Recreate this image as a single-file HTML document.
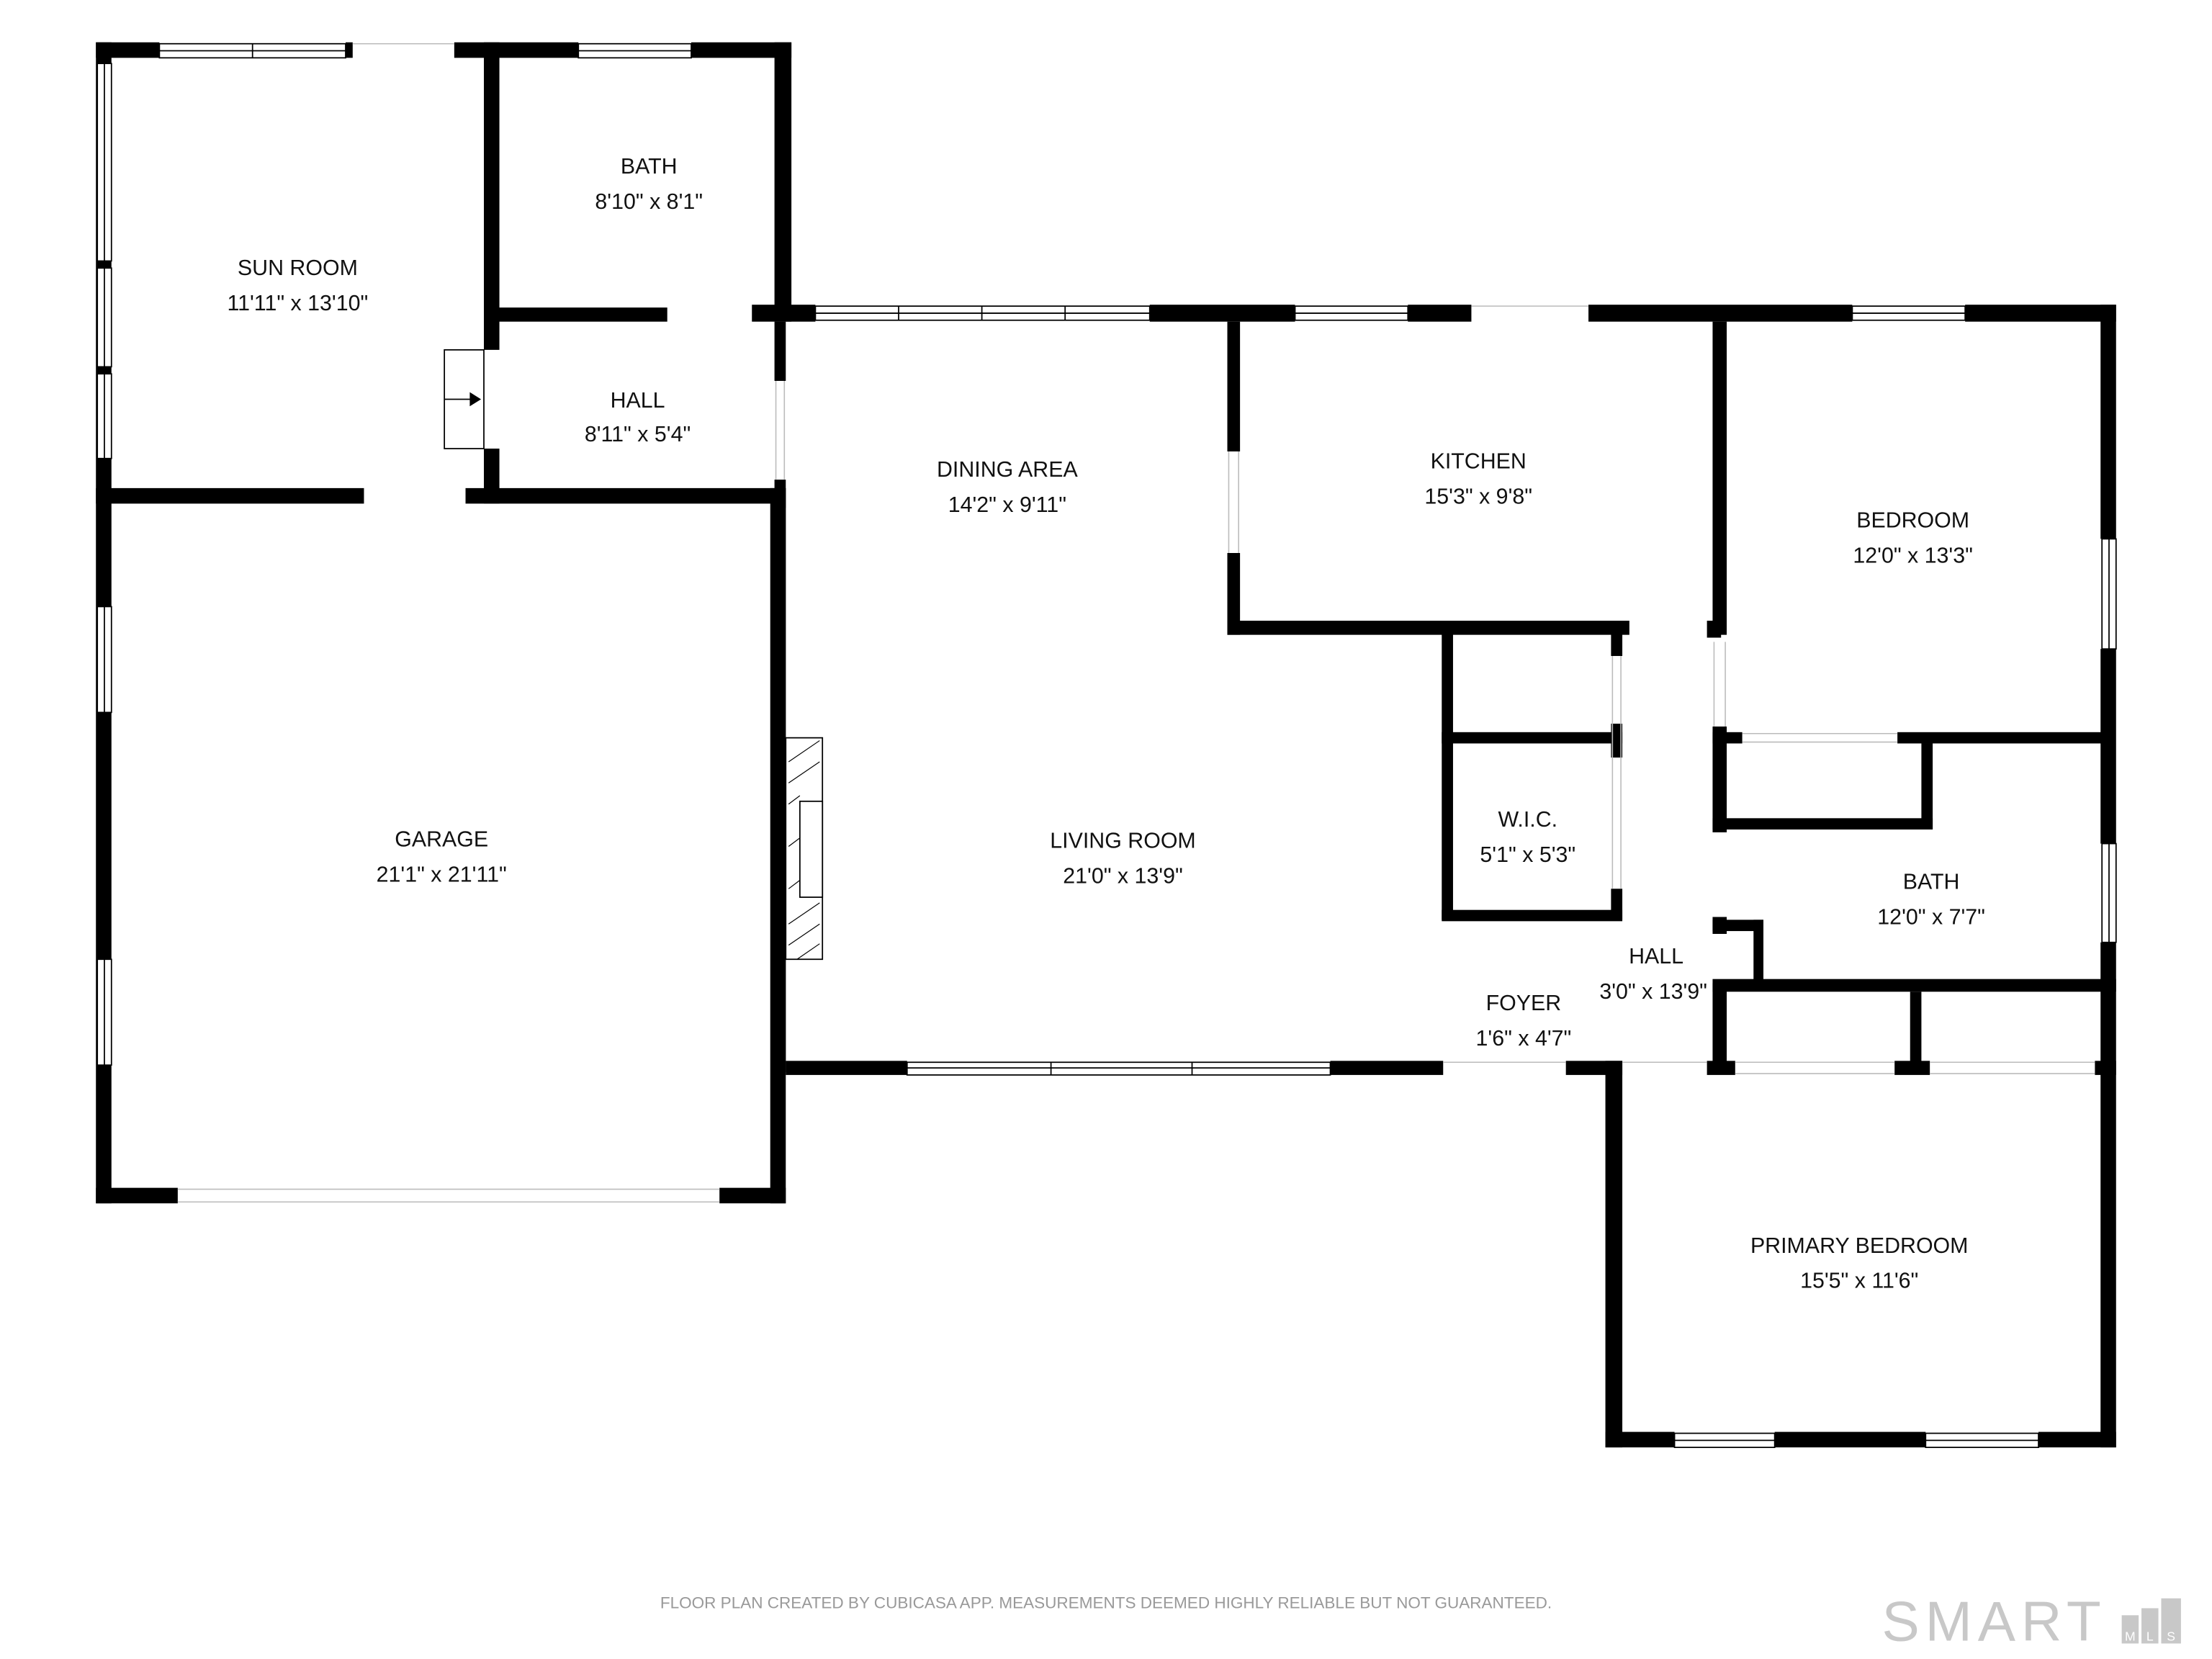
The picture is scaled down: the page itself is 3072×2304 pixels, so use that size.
<!DOCTYPE html>
<html><head><meta charset="utf-8"><style>
html,body{margin:0;padding:0;background:#fff;}
svg{display:block;}
text{font-family:"Liberation Sans",sans-serif;}
</style></head><body>
<svg width="3072" height="2304" viewBox="0 0 1568 1176" xmlns="http://www.w3.org/2000/svg">
<rect width="1568" height="1176" fill="#fff"/>
<g fill="#000">
<!-- sun room / bath block -->
<rect x="68" y="30" width="45" height="11"/>
<rect x="245" y="30" width="5" height="11"/>
<rect x="322" y="30" width="88" height="11"/>
<rect x="490" y="30" width="71" height="11"/>
<rect x="68" y="30" width="11" height="823"/>
<rect x="343" y="30" width="11" height="218"/>
<rect x="343" y="318" width="11" height="39"/>
<rect x="549" y="30" width="12" height="198"/>
<rect x="343" y="218" width="130" height="10"/>
<rect x="533" y="216" width="45" height="12"/>
<rect x="68" y="346" width="190" height="11"/>
<rect x="330" y="346" width="227" height="11"/>
<rect x="549" y="228" width="8" height="42"/>
<rect x="549" y="340" width="8" height="20"/>
<!-- garage -->
<rect x="546" y="346" width="11" height="507"/>
<rect x="68" y="842" width="58" height="11"/>
<rect x="510" y="842" width="47" height="11"/>
<!-- main top wall -->
<rect x="815" y="216" width="103" height="12"/>
<rect x="998" y="216" width="45" height="12"/>
<rect x="1126" y="216" width="187" height="12"/>
<rect x="1393" y="216" width="107" height="12"/>
<!-- right wall -->
<rect x="1489" y="216" width="11" height="166"/>
<rect x="1489" y="460" width="11" height="138"/>
<rect x="1489" y="668" width="11" height="358"/>
<!-- living left wall -->
<rect x="549" y="357" width="8" height="403"/>
<!-- kitchen -->
<rect x="870" y="228" width="9" height="92"/>
<rect x="870" y="392" width="9" height="58"/>
<rect x="870" y="440" width="285" height="10"/>
<!-- WIC -->
<rect x="1022" y="445" width="8" height="207"/>
<rect x="1022" y="519" width="128" height="8"/>
<rect x="1022" y="645" width="128" height="8"/>
<rect x="1142" y="445" width="8" height="20"/>
<rect x="1142" y="513" width="8" height="24"/>
<rect x="1142" y="630" width="8" height="22"/>
<!-- bedroom/bath left wall -->
<rect x="1214" y="228" width="10" height="222"/>
<rect x="1210" y="440" width="10" height="12"/>
<rect x="1214" y="515" width="10" height="75"/>
<rect x="1214" y="650" width="10" height="12"/>
<rect x="1214" y="697" width="10" height="63"/>
<rect x="1214" y="519" width="21" height="8"/>
<rect x="1345" y="519" width="145" height="8"/>
<rect x="1362" y="527" width="8" height="61"/>
<rect x="1214" y="580" width="156" height="8"/>
<rect x="1214" y="652" width="36" height="8"/>
<rect x="1243" y="652" width="7" height="45"/>
<rect x="1214" y="694" width="286" height="9"/>
<rect x="1354" y="703" width="8" height="57"/>
<!-- bottom wall -->
<rect x="557" y="752" width="86" height="10"/>
<rect x="943" y="752" width="80" height="10"/>
<rect x="1110" y="752" width="40" height="10"/>
<rect x="1210" y="752" width="20" height="10"/>
<rect x="1343" y="752" width="25" height="10"/>
<rect x="1485" y="752" width="15" height="10"/>
<!-- primary bedroom -->
<rect x="1138" y="752" width="12" height="274"/>
<rect x="1138" y="1015" width="49" height="11"/>
<rect x="1258" y="1015" width="107" height="11"/>
<rect x="1445" y="1015" width="55" height="11"/>
</g>
<!-- windows -->
<g fill="#fff" stroke="#000" stroke-width="0.9">
<rect x="113" y="31" width="132" height="10"/><line x1="113" y1="36" x2="245" y2="36"/><line x1="179" y1="31" x2="179" y2="41"/>
<rect x="410" y="31" width="80" height="10"/><line x1="410" y1="36" x2="490" y2="36"/>
<rect x="69" y="45" width="10" height="140"/><line x1="74" y1="45" x2="74" y2="185"/>
<rect x="69" y="190" width="10" height="70"/><line x1="74" y1="190" x2="74" y2="260"/>
<rect x="69" y="265" width="10" height="60"/><line x1="74" y1="265" x2="74" y2="325"/>
<rect x="69" y="430" width="10" height="75"/><line x1="74" y1="430" x2="74" y2="505"/>
<rect x="69" y="680" width="10" height="75"/><line x1="74" y1="680" x2="74" y2="755"/>
<rect x="578" y="217" width="237" height="10"/><line x1="578" y1="222" x2="815" y2="222"/><line x1="637" y1="217" x2="637" y2="227"/><line x1="696" y1="217" x2="696" y2="227"/><line x1="755" y1="217" x2="755" y2="227"/>
<rect x="918" y="217" width="80" height="10"/><line x1="918" y1="222" x2="998" y2="222"/>
<rect x="1313" y="217" width="80" height="10"/><line x1="1313" y1="222" x2="1393" y2="222"/>
<rect x="1490" y="382" width="10" height="78"/><line x1="1495" y1="382" x2="1495" y2="460"/>
<rect x="1490" y="598" width="10" height="70"/><line x1="1495" y1="598" x2="1495" y2="668"/>
<rect x="643" y="753" width="300" height="9"/><line x1="643" y1="757" x2="943" y2="757"/><line x1="745" y1="753" x2="745" y2="762"/><line x1="845" y1="753" x2="845" y2="762"/>
<rect x="1187" y="1016" width="71" height="10"/><line x1="1187" y1="1021" x2="1258" y2="1021"/>
<rect x="1365" y="1016" width="80" height="10"/><line x1="1365" y1="1021" x2="1445" y2="1021"/>
</g>
<g fill="none" stroke="#bbb" stroke-width="0.8">
<line x1="126" y1="843" x2="510" y2="843"/><line x1="126" y1="852" x2="510" y2="852"/>
<line x1="250" y1="31" x2="322" y2="31"/><line x1="1043" y1="217" x2="1126" y2="217"/>
<line x1="1235" y1="520" x2="1345" y2="520"/><line x1="1235" y1="526" x2="1345" y2="526"/>
<line x1="1230" y1="753" x2="1343" y2="753"/><line x1="1230" y1="761" x2="1343" y2="761"/>
<line x1="1368" y1="753" x2="1485" y2="753"/><line x1="1368" y1="761" x2="1485" y2="761"/>
<line x1="1150" y1="753" x2="1210" y2="753"/><line x1="1023" y1="753" x2="1110" y2="753"/>
<line x1="1215" y1="455" x2="1215" y2="515"/><line x1="1223" y1="455" x2="1223" y2="515"/>
<line x1="1143" y1="465" x2="1143" y2="630"/><line x1="1149" y1="465" x2="1149" y2="630"/>
<line x1="871" y1="320" x2="871" y2="392"/><line x1="878" y1="320" x2="878" y2="392"/>
<line x1="550" y1="270" x2="550" y2="340"/><line x1="556" y1="270" x2="556" y2="340"/>
</g>
<!-- door box sunroom -->
<g fill="#fff" stroke="#000" stroke-width="0.9">
<rect x="315" y="248" width="28" height="70"/>
</g>
<line x1="315" y1="283" x2="336" y2="283" stroke="#000" stroke-width="0.9"/>
<polygon points="333,278 341,283 333,288" fill="#000"/>
<!-- fireplace -->
<g fill="#fff" stroke="#000" stroke-width="0.9">
<rect x="557" y="523" width="26" height="157"/>
<rect x="567" y="568" width="16" height="68"/>
</g>
<g stroke="#000" stroke-width="0.6">
<line x1="559" y1="540" x2="581" y2="525"/><line x1="559" y1="555" x2="581" y2="540"/><line x1="559" y1="570" x2="567" y2="564"/>
<line x1="559" y1="600" x2="567" y2="594"/><line x1="559" y1="630" x2="567" y2="624"/>
<line x1="559" y1="655" x2="581" y2="640"/><line x1="559" y1="670" x2="581" y2="655"/><line x1="565" y1="680" x2="581" y2="669"/>
</g>
<!-- labels -->
<g font-size="15.5" fill="#111" text-anchor="middle">
<text x="211" y="195">SUN ROOM</text><text x="211" y="220">11'11" x 13'10"</text>
<text x="460" y="123">BATH</text><text x="460" y="148">8'10" x 8'1"</text>
<text x="452" y="289">HALL</text><text x="452" y="313">8'11" x 5'4"</text>
<text x="714" y="338">DINING AREA</text><text x="714" y="363">14'2" x 9'11"</text>
<text x="1048" y="332">KITCHEN</text><text x="1048" y="357">15'3" x 9'8"</text>
<text x="1356" y="374">BEDROOM</text><text x="1356" y="399">12'0" x 13'3"</text>
<text x="313" y="600">GARAGE</text><text x="313" y="625">21'1" x 21'11"</text>
<text x="796" y="601">LIVING ROOM</text><text x="796" y="626">21'0" x 13'9"</text>
<text x="1083" y="586">W.I.C.</text><text x="1083" y="611">5'1" x 5'3"</text>
<text x="1369" y="630">BATH</text><text x="1369" y="655">12'0" x 7'7"</text>
<text x="1174" y="683">HALL</text><text x="1172" y="708">3'0" x 13'9"</text>
<text x="1080" y="716">FOYER</text><text x="1080" y="741">1'6" x 4'7"</text>
<text x="1318" y="888">PRIMARY BEDROOM</text><text x="1318" y="913">15'5" x 11'6"</text>
</g>
<text x="784" y="1140" font-size="11.5" fill="#999" text-anchor="middle">FLOOR PLAN CREATED BY CUBICASA APP. MEASUREMENTS DEEMED HIGHLY RELIABLE BUT NOT GUARANTEED.</text>
<text x="1334" y="1163" font-size="40" fill="#c8c8c8" letter-spacing="4">SMART</text>
<rect x="1504" y="1145" width="12" height="20" fill="#c8c8c8"/>
<rect x="1518" y="1140" width="12" height="25" fill="#c8c8c8"/>
<rect x="1532" y="1133" width="14" height="32" fill="#c8c8c8"/>
<g font-size="9" fill="#fff" text-anchor="middle"><text x="1510" y="1163">M</text><text x="1524" y="1163">L</text><text x="1539" y="1163">S</text></g>
</svg>
</body></html>
